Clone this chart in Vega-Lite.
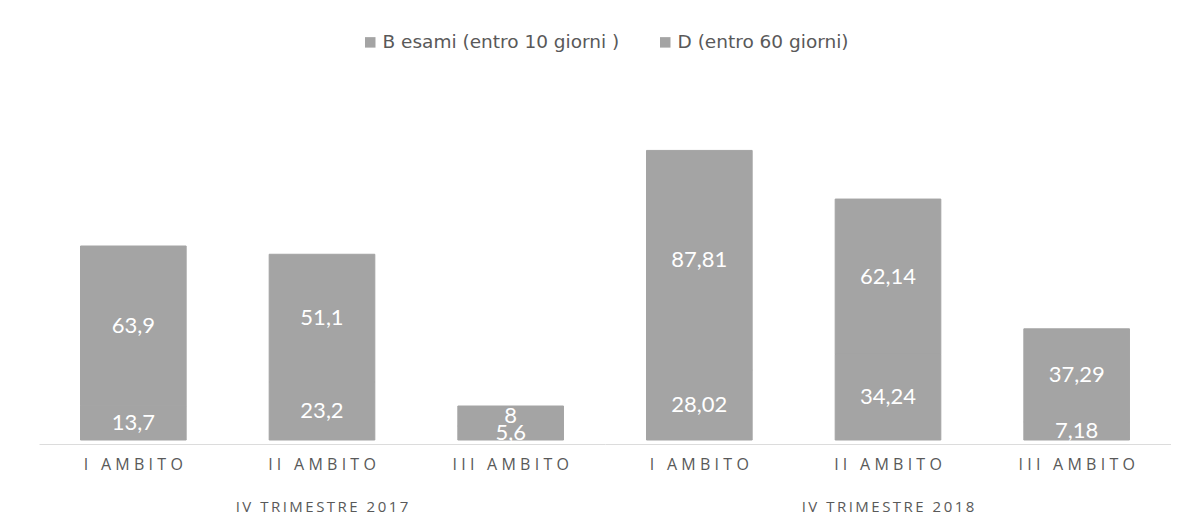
{
  "$schema": "https://vega.github.io/schema/vega-lite/v6.json",
  "padding": {"left": 39, "top": 33, "right": 0, "bottom": 0},
  "background": "white",
  "data": {
    "values": [
      {"trimestre": "IV TRIMESTRE 2017", "ambito": "I AMBITO", "serie": "B esami (entro 10 giorni )", "valore": 13.7},
      {"trimestre": "IV TRIMESTRE 2017", "ambito": "I AMBITO", "serie": "D (entro 60 giorni)", "valore": 63.9},
      {"trimestre": "IV TRIMESTRE 2017", "ambito": "II AMBITO", "serie": "B esami (entro 10 giorni )", "valore": 23.2},
      {"trimestre": "IV TRIMESTRE 2017", "ambito": "II AMBITO", "serie": "D (entro 60 giorni)", "valore": 51.1},
      {"trimestre": "IV TRIMESTRE 2017", "ambito": "III AMBITO", "serie": "B esami (entro 10 giorni )", "valore": 5.6},
      {"trimestre": "IV TRIMESTRE 2017", "ambito": "III AMBITO", "serie": "D (entro 60 giorni)", "valore": 8},
      {"trimestre": "IV TRIMESTRE 2018", "ambito": "I AMBITO", "serie": "B esami (entro 10 giorni )", "valore": 28.02},
      {"trimestre": "IV TRIMESTRE 2018", "ambito": "I AMBITO", "serie": "D (entro 60 giorni)", "valore": 87.81},
      {"trimestre": "IV TRIMESTRE 2018", "ambito": "II AMBITO", "serie": "B esami (entro 10 giorni )", "valore": 34.24},
      {"trimestre": "IV TRIMESTRE 2018", "ambito": "II AMBITO", "serie": "D (entro 60 giorni)", "valore": 62.14},
      {"trimestre": "IV TRIMESTRE 2018", "ambito": "III AMBITO", "serie": "B esami (entro 10 giorni )", "valore": 7.18},
      {"trimestre": "IV TRIMESTRE 2018", "ambito": "III AMBITO", "serie": "D (entro 60 giorni)", "valore": 37.29}
    ]
  },
  "transform": [
    {
      "stack": "valore",
      "groupby": ["trimestre", "ambito"],
      "sort": [{"field": "serie", "order": "ascending"}],
      "as": ["v0", "v1"]
    },
    {"calculate": "(datum.v0 + datum.v1) / 2", "as": "centro"}
  ],
  "facet": {
    "column": {
      "field": "trimestre",
      "type": "nominal",
      "header": {
        "title": null,
        "labelOrient": "bottom",
        "labelFont": "Open Sans",
        "labelFontSize": 15,
        "labelColor": "#595959",
        "labelPadding": 28,
        "labelExpr": "join(split(datum.label, ''), '\u2009')"
      }
    }
  },
  "spacing": 0,
  "spec": {
    "width": 566,
    "height": 300,
    "encoding": {
      "x": {
        "field": "ambito",
        "type": "nominal",
        "sort": ["I AMBITO", "II AMBITO", "III AMBITO"],
        "scale": {"paddingInner": 0.44, "paddingOuter": 0.22},
        "axis": {
          "title": null,
          "labelAngle": 0,
          "ticks": false,
          "domainColor": "#dcdcdc",
          "domainWidth": 1,
          "labelFont": "Open Sans",
          "labelFontSize": 16,
          "labelColor": "#595959",
          "labelPadding": 12,
          "labelExpr": "join(split(datum.label, ''), '\u2009\u200a')"
        }
      }
    },
    "layer": [
      {
        "mark": {"type": "bar", "stroke": "#a4a4a4", "strokeWidth": 1},
        "encoding": {
          "y": {
            "field": "v0",
            "type": "quantitative",
            "scale": {"domain": [0, 120], "nice": false},
            "axis": null
          },
          "y2": {"field": "v1"},
          "color": {
            "field": "serie",
            "type": "nominal",
            "scale": {
              "domain": ["B esami (entro 10 giorni )", "D (entro 60 giorni)"],
              "range": ["#a4a4a4", "#a4a4a4"]
            },
            "legend": {
              "title": null,
              "orient": "top",
              "direction": "horizontal",
              "symbolType": "square",
              "symbolSize": 110,
              "symbolStrokeWidth": 0,
              "labelFont": "DejaVu Sans",
              "labelFontSize": 18.5,
              "labelColor": "#595959",
              "labelLimit": 400,
              "labelOffset": 3,
              "columnPadding": 36,
              "offset": 88
            }
          }
        }
      },
      {
        "mark": {"type": "text", "color": "white", "font": "Lato", "fontSize": 22, "baseline": "middle"},
        "encoding": {
          "y": {"field": "centro", "type": "quantitative"},
          "text": {"field": "valore", "type": "quantitative", "format": "~g"}
        }
      }
    ]
  },
  "config": {
    "view": {"stroke": null},
    "locale": {
      "number": {"decimal": ",", "thousands": ".", "grouping": [3], "currency": ["€", ""]}
    },
    "legend": {"layout": {"top": {"anchor": "middle"}}}
  }
}
